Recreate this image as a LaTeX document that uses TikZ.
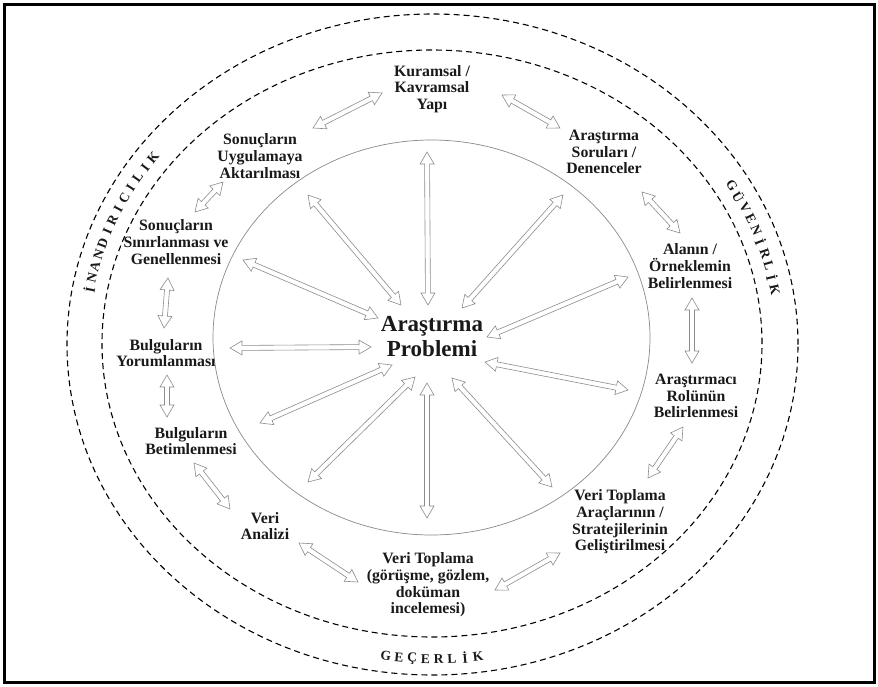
\documentclass[tikz,border=0pt]{standalone}
\usepackage{fontspec}
\setmainfont{Liberation Serif}
\usetikzlibrary{calc}
\definecolor{arrgray}{HTML}{8C8C8C}
\definecolor{circgray}{HTML}{8A8A8A}
\tikzset{
  lbl/.style={font=\bfseries\fontsize{15.8}{16.7}\selectfont, align=center, inner sep=0pt, text=black!90},
  arrst/.style={draw=arrgray, fill=white, line width=0.6pt, line join=miter},
  dashell/.style={draw=black, line width=1.1pt, dash pattern=on 6pt off 4pt},
  curv/.style={font=\bfseries\fontsize{13.5}{14}\selectfont, inner sep=0pt, text=black!90},
}
\newcommand\ahl{12pt}
\newcommand\ahw{7pt}
\newcommand\asw{2.5pt}
\newcommand\dblarrow[2]{\draw[arrst] (#1)
 -- ($(#1)!\ahl!(#2)!\ahw!90:(#2)$) -- ($(#1)!\ahl!(#2)!\asw!90:(#2)$)
 -- ($(#2)!\ahl!(#1)!\asw!-90:(#1)$) -- ($(#2)!\ahl!(#1)!\ahw!-90:(#1)$)
 -- (#2)
 -- ($(#2)!\ahl!(#1)!\ahw!90:(#1)$) -- ($(#2)!\ahl!(#1)!\asw!90:(#1)$)
 -- ($(#1)!\ahl!(#2)!\asw!-90:(#2)$) -- ($(#1)!\ahl!(#2)!\ahw!-90:(#2)$)
 -- cycle;}
\begin{document}
\begin{tikzpicture}[x=1pt,y=-1pt]
\useasboundingbox (0,0) rectangle (878,686);
\fill[white] (0,0) rectangle (878,686);
\draw[line width=3pt] (4,4) rectangle (874,682);
% ellipses
\draw[dashell] (432.5,344.5) ellipse [x radius=365.5pt, y radius=330.5pt];
\draw[dashell] (432,343.5) ellipse [x radius=330pt, y radius=293.5pt];
\draw[circgray, line width=0.7pt] (431.5,337.5) ellipse [x radius=218.5pt, y radius=197.5pt];
% curved labels
\foreach \ch [count=\i from 0] in {İ,N,A,N,D,I,R,I,C,I,L,I,K}{
  \pgfmathsetmacro\th{170-\i*26.7/12}
  \pgfmathsetmacro\rt{atan2(-312*cos(\th),348*sin(\th))}
  \node[curv, rotate=\rt] (inan\i) at ({432+348*cos(\th)},{344-312*sin(\th)}) {\ch};
}
\foreach \ch [count=\i from 0] in {G,Ü,V,E,N,İ,R,L,İ,K}{
  \pgfmathsetmacro\th{30.5-\i*20.5/9}
  \pgfmathsetmacro\rt{atan2(-312*cos(\th),348*sin(\th))}
  \node[curv, rotate=\rt] (guv\i) at ({432+348*cos(\th)},{344-312*sin(\th)}) {\ch};
}
\foreach \ch [count=\i from 0] in {G,E,Ç,E,R,L,İ,K}{
  \pgfmathsetmacro\th{262.4+\i*15.2/7}
  \pgfmathsetmacro\rt{atan2(315*cos(\th),-348*sin(\th))}
  \node[curv, rotate=\rt] (gec\i) at ({432+348*cos(\th)},{344-315*sin(\th)}) {\ch};
}
% arrow end points
\coordinate (r1a) at (427,152); \coordinate (r1b) at (428,305);
\coordinate (r2a) at (308,195); \coordinate (r2b) at (401,305);
\coordinate (r3a) at (243,260); \coordinate (r3b) at (378,318);
\coordinate (r4a) at (230,348); \coordinate (r4b) at (371,347);
\coordinate (r5a) at (260,423); \coordinate (r5b) at (392,365);
\coordinate (r6a) at (308,482); \coordinate (r6b) at (415,377);
\coordinate (r7a) at (427,518); \coordinate (r7b) at (427,383);
\coordinate (r8a) at (552,487); \coordinate (r8b) at (452,378);
\coordinate (r9a) at (628,390); \coordinate (r9b) at (485,362);
\coordinate (r10a) at (628,277); \coordinate (r10b) at (487,337);
\coordinate (r11a) at (563,195); \coordinate (r11b) at (462,308);
\coordinate (p1a) at (313,128); \coordinate (p1b) at (382,93);
\coordinate (p2a) at (502,95); \coordinate (p2b) at (560,128);
\coordinate (p3a) at (642,192); \coordinate (p3b) at (680,233);
\coordinate (p4a) at (692,298); \coordinate (p4b) at (692,363);
\coordinate (p5a) at (683,427); \coordinate (p5b) at (648,478);
\coordinate (p6a) at (560,553); \coordinate (p6b) at (495,590);
\coordinate (p7a) at (358,582); \coordinate (p7b) at (299,543);
\coordinate (p8a) at (194,463); \coordinate (p8b) at (230,509);
\coordinate (p9a) at (167,375); \coordinate (p9b) at (167,417);
\coordinate (p10a) at (168,278); \coordinate (p10b) at (164,328);
\coordinate (p11a) at (195,212); \coordinate (p11b) at (223,182);
\foreach \k in {1,...,11}{\dblarrow{r\k a}{r\k b}}
\foreach \k in {1,...,11}{\dblarrow{p\k a}{p\k b}}
% labels
\node[font=\bfseries\fontsize{23}{25}\selectfont, align=center, inner sep=0pt, text=black!90] (prob) at (432,337) {Araştırma\\Problemi};
\node[lbl] (kur) at (432,89) {Kuramsal /\\Kavramsal\\Yapı};
\node[lbl] (sor) at (604,152) {Araştırma\\Soruları /\\Denenceler};
\node[lbl] (alan) at (690,266) {Alanın /\\Örneklemin\\Belirlenmesi};
\node[lbl] (rol) at (696,396) {Araştırmacı\\Rolünün\\Belirlenmesi};
\node[lbl] (arac) at (620,522) {Veri Toplama\\Araçlarının /\\Stratejilerinin\\Geliştirilmesi};
\node[lbl] (vt) at (428,585) {Veri Toplama\\(görüşme, gözlem,\\doküman\\incelemesi)};
\node[lbl] (va) at (265,526) {Veri\\Analizi};
\node[lbl] (bbet) at (191,441) {Bulguların\\Betimlenmesi};
\node[lbl] (byor) at (166,353) {Bulguların\\Yorumlanması};
\node[lbl] (ssin) at (176,242) {Sonuçların\\Sınırlanması ve\\Genellenmesi};
\node[lbl] (suyg) at (260,156) {Sonuçların\\Uygulamaya\\Aktarılması};
\end{tikzpicture}
\end{document}
